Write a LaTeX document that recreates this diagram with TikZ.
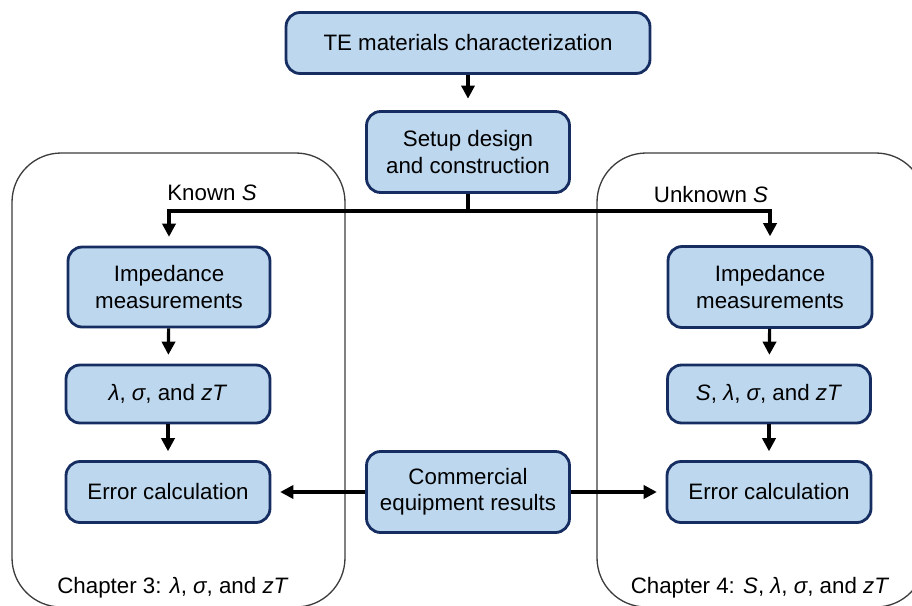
\documentclass[tikz,border=0pt]{standalone}
\usepackage{fontspec}
\setmainfont{Liberation Sans}
\usetikzlibrary{arrows.meta}

\definecolor{boxfill}{RGB}{189,215,238}
\definecolor{boxline}{RGB}{22,45,98}
\definecolor{frameline}{RGB}{60,60,60}

\tikzset{
  stage/.style={draw=boxline, fill=boxfill, line width=1.6pt, rounded corners=8pt,
    align=center, inner sep=0pt, font=\fontsize{12.7}{15}\selectfont},
  flow/.style={line width=1.8pt, -{Triangle[length=7.5pt,width=7.5pt]}, shorten >=5pt},
  chapter/.style={draw=frameline, line width=0.75pt, rounded corners=28pt},
  tag/.style={inner sep=0pt, font=\fontsize{12.7}{15}\selectfont}
}

\begin{document}
\begin{tikzpicture}[x=0.02cm, y=-0.02cm]
        \useasboundingbox (0,0) rectangle (912,605);
        % chapter frames, cut by the page edge
        \begin{scope}
          \clip (0,0) rectangle (912,605);
          \draw[chapter] (12,153) rectangle (345,607);
          \draw[chapter] (597,153) rectangle (925,607);
        \end{scope}

        \node[stage, minimum width=7.28cm, minimum height=1.22cm] (char) at (468,43) {TE materials characterization};
        \node[stage, minimum width=4.06cm, minimum height=1.62cm] (setup) at (468,152) {Setup design\\and construction};

        \node[stage, minimum width=4.04cm, minimum height=1.6cm] (impL) at (169,287) {Impedance\\measurements};
        \node[stage, minimum width=4.08cm, minimum height=1.16cm] (propL) at (168,394) {\textit{λ}, \textit{σ}, and \textit{zT}};
        \node[stage, minimum width=4.08cm, minimum height=1.22cm] (errL) at (168,492) {Error calculation};

        \node[stage, minimum width=4.08cm, minimum height=1.62cm] (impR) at (770,287) {Impedance\\measurements};
        \node[stage, minimum width=4.06cm, minimum height=1.16cm] (propR) at (769,394) {\textit{S}, \textit{λ}, \textit{σ}, and \textit{zT}};
        \node[stage, minimum width=4.08cm, minimum height=1.22cm] (errR) at (769,492) {Error calculation};

        \node[stage, minimum width=4.06cm, minimum height=1.62cm] (comm) at (468,492) {Commercial\\equipment results};

        \node[tag] (knownS) at (212,193) {Known \textit{S}};
        \node[tag] (unknownS) at (711,195) {Unknown \textit{S}};
        \node[tag] (chapL) at (173,588) {Chapter 3: \textit{λ}, \textit{σ}, and \textit{zT}};
        \node[tag] (chapR) at (760,588) {Chapter 4: \textit{S}, \textit{λ}, \textit{σ}, and \textit{zT}};

        \draw[flow, shorten >=6.5pt] (char) -- (setup);
        \draw[line width=1.8pt] (setup.south) -- (468,211) coordinate (split);
        \draw[flow] (split) -| (impL.north);
        \draw[flow] (split) -| (impR.north);
        \draw[flow] (impL) -- (propL);
        \draw[flow] (propL) -- (errL);
        \draw[flow] (impR) -- (propR);
        \draw[flow] (propR) -- (errR);
        \draw[flow] (comm) -- (errL);
        \draw[flow] (comm) -- (errR);

      \end{tikzpicture}
\end{document}
